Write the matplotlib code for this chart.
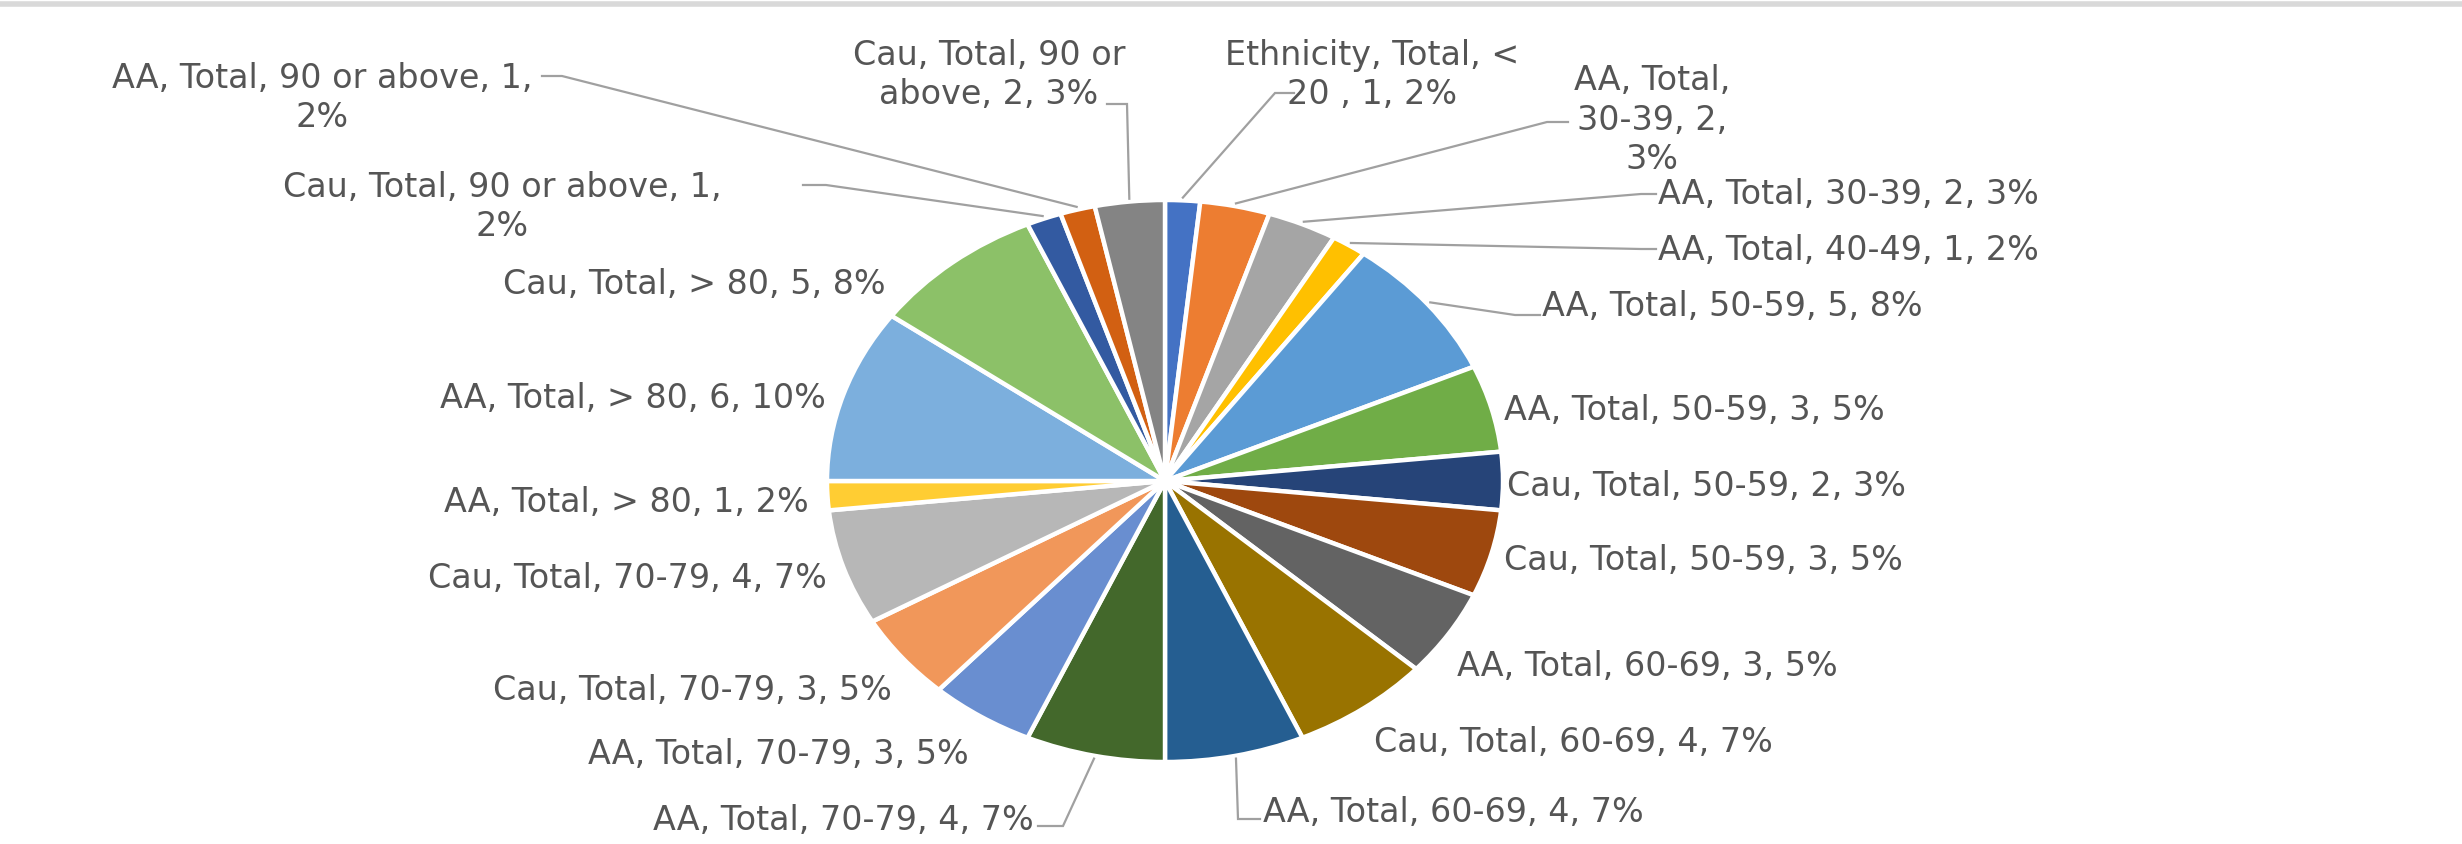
import textwrap
import numpy as np
import matplotlib
matplotlib.use("Agg")
import matplotlib.pyplot as plt
from matplotlib.lines import Line2D

# ---------------- data ----------------
groups = ["Ethnicity", "AA", "AA", "AA", "AA", "AA", "Cau", "Cau", "AA", "Cau",
          "AA", "AA", "AA", "Cau", "Cau", "AA", "AA", "Cau", "Cau", "AA", "Cau"]
age_groups = ["< 20 ", "30-39", "30-39", "40-49", "50-59", "50-59", "50-59", "50-59",
              "60-69", "60-69", "60-69", "70-79", "70-79", "70-79", "70-79",
              "> 80", "> 80", "> 80", "90 or above", "90 or above", "90 or above"]
counts = [1, 2, 2, 1, 5, 3, 2, 3, 3, 4, 4, 4, 3, 3, 4, 1, 6, 5, 1, 1, 2]

colors = ["#4472C4", "#ED7D31", "#A5A5A5", "#FFC000", "#5B9BD5", "#70AD47",
          "#264478", "#9E480E", "#636363", "#997300", "#255E91", "#43682B",
          "#698ED0", "#F1975A", "#B7B7B7", "#FFCD33", "#7CAFDD", "#8CC168",
          "#335AA1", "#D26012", "#848484"]

# ---------------- layout (pixels in the 2462x844 canvas) ----------------
W, H = 2462, 844
CX, CY, RX, RY = 1165, 481, 338, 281   # pie centre and radii

wrap_widths = [20, 10, None, None, None, None, None, None, None, None, None,
               None, None, None, None, None, None, None, 27, 26, 17]
label_pos = [(1372, 72, "center"), (1652, 117, "center"), (1658, 192, "left"),
             (1658, 247, "left"), (1542, 303, "left"), (1504, 408, "left"),
             (1507, 484, "left"), (1504, 557, "left"), (1457, 664, "left"),
             (1374, 740, "left"), (1263, 810, "left"), (1034, 817, "right"),
             (969, 751, "right"), (892, 688, "right"), (827, 575, "right"),
             (809, 499, "right"), (826, 396, "right"), (886, 281, "right"),
             (502, 204, "center"), (322, 95, "center"), (989, 72, "center")]
# leader lines: slice index -> (elbow, end) in pixels
leaders = {0: ((1275, 93), (1294, 93)),
           1: ((1547, 122), (1568, 122)),
           2: ((1641, 194), (1656, 194)),
           3: ((1641, 249), (1656, 249)),
           4: ((1515, 315), (1540, 315)),
           10: ((1238, 819), (1260, 819)),
           11: ((1063, 826), (1038, 826)),
           18: ((826, 185), (803, 185)),
           19: ((562, 76), (542, 76)),
           20: ((1127, 104), (1107, 104))}


def to_data(px, py):
    return (px - CX) / RX, (CY - py) / RY


plt.rcParams["font.family"] = ["DejaVu Sans"]

fig = plt.figure(figsize=(W / 100, H / 100), dpi=100, facecolor="white")
ax = fig.add_axes([0, 0, 1, 1])

wedges, _ = ax.pie(counts, colors=colors, startangle=90, counterclock=False,
                   radius=1, wedgeprops=dict(edgecolor="white", linewidth=3.2))
ax.set_aspect("auto")
ax.set_xlim(to_data(0, 0)[0], to_data(W, 0)[0])
ax.set_ylim(to_data(0, H)[1], to_data(0, 0)[1])
ax.axis("off")

total = sum(counts)
for i, (g, a, c) in enumerate(zip(groups, age_groups, counts)):
    pct = int(round(100 * c / total))
    text = f"{g}, Total, {a}, {c}, {pct}%"
    if wrap_widths[i]:
        text = textwrap.fill(text, width=wrap_widths[i], break_on_hyphens=False)
    px, py, ha = label_pos[i]
    x, y = to_data(px, py + 3)
    ax.text(x, y, text, ha=ha, va="center", multialignment="center",
            fontsize=24, color="#555555", linespacing=1.25)

for i, (elbow, end) in leaders.items():
    w = wedges[i]
    th = np.deg2rad((w.theta1 + w.theta2) / 2)
    sx, sy = 1.01 * np.cos(th), 1.01 * np.sin(th)
    ex, ey = to_data(*elbow)
    fx, fy = to_data(*end)
    ax.plot([sx, ex, fx], [sy, ey, fy], color="#A0A0A0", lw=1.6,
            solid_joinstyle="miter")

fig.add_artist(Line2D([0, 1], [1 - 4 / H, 1 - 4 / H], transform=fig.transFigure,
                      color="#D9D9D9", lw=4))

fig.savefig("out.png", dpi=100, facecolor="white")
